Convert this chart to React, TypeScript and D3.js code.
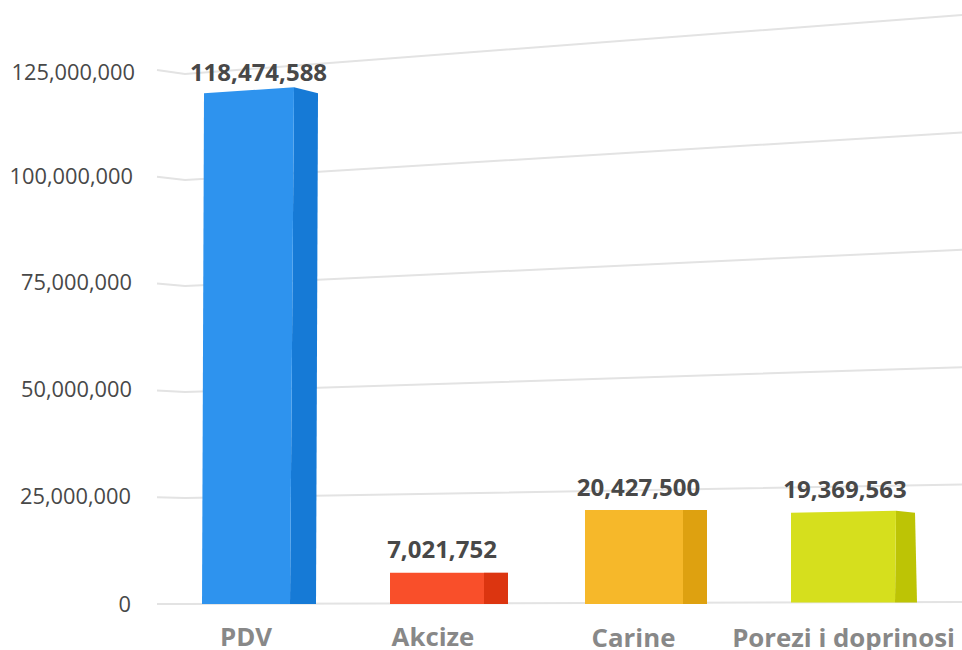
import React from "react";
import * as d3 from "d3";

// ---- data ----
const categories = ["PDV", "Akcize", "Carine", "Porezi i doprinosi"];
const values = [118474588, 7021752, 20427500, 19369563];
const tickValues = [0, 25000000, 50000000, 75000000, 100000000, 125000000];

// ---- styles ----
const frontColors = ["#2e93ee", "#f94f2a", "#f6b82a", "#d6df1d"];
const sideColors = ["#167ad6", "#dc3510", "#dea110", "#bdc405"];

// ---- layout: the bars stand in a slight perspective ----
const W = 962, H = 650;
const idx = [0, 1, 2, 3];
const leftTop = d3.scaleLinear().domain(idx).range([204, 390, 585, 791]);
const leftBottom = d3.scaleLinear().domain(idx).range([202, 390, 585, 791]);
const frontRightTop = d3.scaleLinear().domain(idx).range([294, 484, 683, 896]);
const frontRightBottom = d3.scaleLinear().domain(idx).range([290, 484, 683, 895]);
const sideRightTop = d3.scaleLinear().domain(idx).range([318, 508, 707, 915]);
const sideRightBottom = d3.scaleLinear().domain(idx).range([316, 508, 707, 917]);
const baseY = d3.scaleLinear().domain(idx).range([604, 604, 604, 602.5]);
const pxPerValue = d3.scaleLinear().domain([204, 850]).range([4.305e-6, 4.745e-6]);
const tiltFactor = d3.scaleLinear().domain(idx).range([6, 0, 0, 2]);
const labelX = d3.scaleLinear().domain(idx).range([258.5, 442, 638.5, 845]);
const labelY = d3.scaleLinear().domain(idx).range([80.5, 558, 496, 498]);
const catX = d3.scaleLinear().domain(idx).range([246, 433, 633.5, 843.5]);
const catY = d3.scaleLinear().domain(idx).range([646, 646, 647, 647]);

// Wall grid: value -> y at the left corner and at the right edge
const gridCornerY = d3.scaleLinear().domain([0, 125000000]).range([604, 74]);
const gridRightY = d3.scaleLinear().domain([0, 125000000]).range([602, 15]);
const gridStubY = d3.scaleLinear().domain([0, 125000000]).range([604, 70]);
const tickLabelX = d3.scaleLinear().domain(tickValues).range([131, 131, 132, 132, 133, 135]);
const tickLabelY = d3.scaleLinear().domain(tickValues).range([612, 504, 397, 290, 184, 80]);
const gridLine = d3.line();
const fmt = d3.format(",");

export default function App() {
  const font = "'Open Sans', sans-serif";
  return (
    <svg
      width={W}
      height={H}
      viewBox={`0 0 ${W} ${H}`}
      style={{ position: "absolute", left: 0, top: 0, background: "#fff" }}
    >
      {tickValues.map((t) => (
        <g key={t}>
          <path
            d={gridLine([
              [157, gridStubY(t)],
              [185, gridCornerY(t)],
              [W, gridRightY(t)],
            ])!}
            fill="none"
            stroke="#e3e3e3"
            strokeWidth={2}
          />
          <text
            x={tickLabelX(t)}
            y={tickLabelY(t)}
            textAnchor="end"
            fontFamily={font}
            fontSize={21.8}
            fill="#484848"
          >
            {fmt(t)}
          </text>
        </g>
      ))}
      {categories.map((c, i) => {
        const base = baseY(i);
        const h = values[i] * pxPerValue((leftTop(i) + frontRightTop(i)) / 2);
        const topRight = base - h - tiltFactor(i) / 2 + (i === 3 ? 1 : 0);
        const topLeft = topRight + tiltFactor(i);
        const front = d3.line()([
          [leftBottom(i), base],
          [leftTop(i), topLeft],
          [frontRightTop(i), topRight],
          [frontRightBottom(i), base],
        ])! + "Z";
        const side = d3.line()([
          [frontRightBottom(i), base],
          [frontRightTop(i), topRight],
          [sideRightTop(i), topLeft],
          [sideRightBottom(i), base],
        ])! + "Z";
        return (
          <g key={c}>
            <path d={side} fill={sideColors[i]} />
            <path d={front} fill={frontColors[i]} />
            <text
              x={labelX(i)}
              y={labelY(i)}
              textAnchor="middle"
              fontFamily={font}
              fontWeight={700}
              fontSize={24}
              fill="#484848"
            >
              {fmt(values[i])}
            </text>
            <text
              x={catX(i)}
              y={catY(i)}
              textAnchor="middle"
              fontFamily={font}
              fontWeight={700}
              fontSize={25.8}
              fill="#888"
            >
              {c}
            </text>
          </g>
        );
      })}
    </svg>
  );
}
